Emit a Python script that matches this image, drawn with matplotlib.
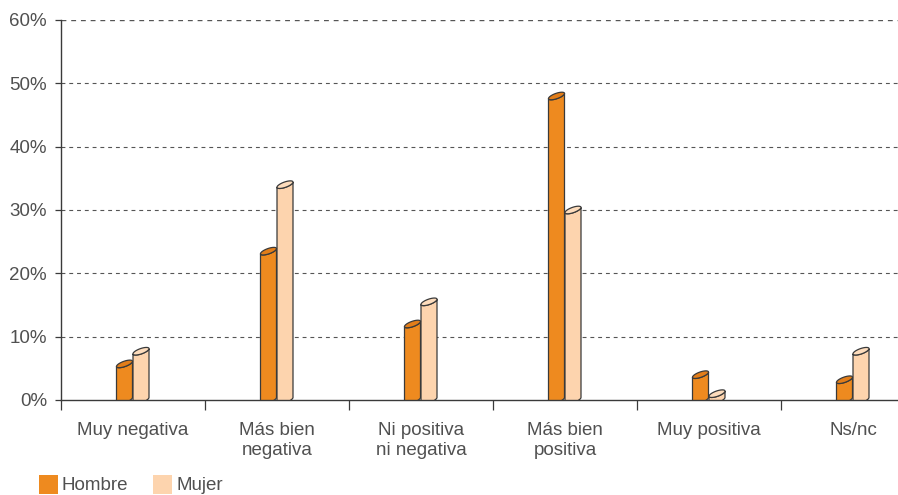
import numpy as np
import matplotlib.pyplot as plt
from matplotlib.patches import Polygon, Rectangle

plt.rcParams["font.family"] = ["Liberation Sans", "DejaVu Sans"]

categories = ["Muy negativa", "Más bien\nnegativa", "Ni positiva\nni negativa",
              "Más bien\npositiva", "Muy positiva", "Ns/nc"]
hombre = [5.7, 23.5, 12.0, 48.0, 4.0, 3.2]
mujer = [7.7, 34.0, 15.5, 30.0, 1.0, 7.7]
yticks = [0, 10, 20, 30, 40, 50, 60]
series = ["Hombre", "Mujer"]

c_h, c_h_top = "#EE8A1F", "#E27D19"
c_m, c_m_top = "#FDD4AE", "#FDDCBC"
edge = "#3a3a3a"
txt = "#505050"

W, H = 898, 495
fig = plt.figure(figsize=(W / 100, H / 100), dpi=100)
x0, y0, cw, y60 = 61, 400, 144, 20
ax = fig.add_axes([x0 / W, (H - y0) / H, 6 * cw / W, (y0 - y60) / H])
ax.set_xlim(0, 6)
ax.set_ylim(0, 60)

# pixel -> data scales
px_x = 1 / cw
px_y = 60 / (y0 - y60)
a, b, s = 8.0, 2.8, 0.32  # half width, half height, shear (px)


def ell(xc, yc, t):
    return np.column_stack([xc + a * np.cos(t) * px_x,
                            yc + (b * np.sin(t) + s * a * np.cos(t)) * px_y])


def cylinder(xc, v, body, top):
    # bottom arc left->right, then top front arc right->left
    bottom = ell(xc, 0, np.linspace(np.pi, 2 * np.pi, 30))
    front = ell(xc, v, np.linspace(2 * np.pi, np.pi, 30))
    ax.add_patch(Polygon(np.vstack([bottom, front]), closed=True, facecolor=body,
                         edgecolor=edge, lw=0.9, zorder=3))
    ax.add_patch(Polygon(ell(xc, v, np.linspace(0, 2 * np.pi, 60)), closed=True,
                         facecolor=top, edgecolor=edge, lw=0.9, zorder=4))


for i, (h, m) in enumerate(zip(hombre, mujer)):
    c = i + 0.5
    cylinder(c - 8.5 * px_x, h, c_h, c_h_top)
    cylinder(c + 8.0 * px_x, m, c_m, c_m_top)

ax.set_yticks(yticks)
ax.set_yticklabels([f"{t}%" for t in yticks], fontsize=13.5, color=txt)
ax.set_xticks(np.arange(0, 7))
ax.set_xticklabels([])
ax.set_xticks(np.arange(6) + 0.5, minor=True)
ax.set_xticklabels(categories, minor=True, fontsize=13.5, color=txt, linespacing=1.25)
ax.tick_params(axis="x", which="minor", length=0, pad=16)
ax.tick_params(axis="x", which="major", length=7, color=edge, width=0.9)
ax.tick_params(axis="y", length=4, color=edge, width=0.9, pad=6)
for t in yticks[1:]:
    ax.axhline(t, color="#555555", lw=1.0 if t == 60 else 0.8, ls=(0, (3.5, 3.5)), zorder=1)
for sp in ["top", "right"]:
    ax.spines[sp].set_visible(False)
ax.spines["left"].set_color(edge)
ax.spines["bottom"].set_color(edge)
ax.spines["left"].set_linewidth(1)
ax.spines["bottom"].set_linewidth(1)
ax.spines["bottom"].set_zorder(5)

# legend drawn by hand, in pixels
for name, col, lx in zip(series, [c_h, c_m], [39, 153]):
    fig.patches.append(Rectangle((lx / W, 1 / H), 19 / W, 19 / H, facecolor=col,
                                 transform=fig.transFigure, figure=fig))
    fig.text((lx + 23) / W, 9 / H, name, fontsize=13.5, color=txt, va="center", ha="left")

fig.savefig("out.png", dpi=100)
